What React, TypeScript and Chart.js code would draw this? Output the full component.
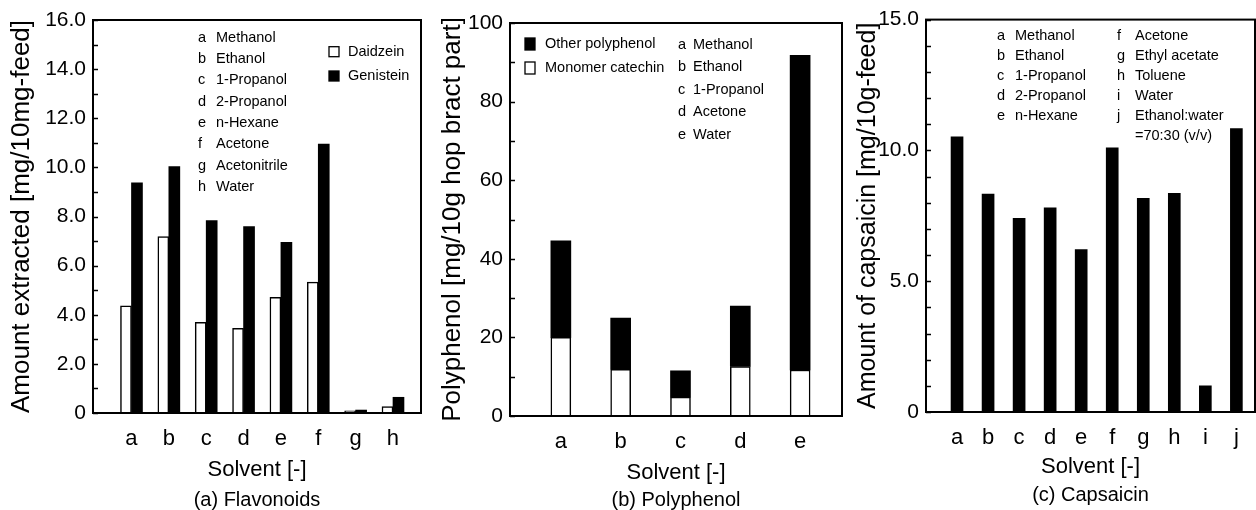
import React, { useEffect, useRef } from 'react';
import { Chart, registerables } from 'chart.js';

Chart.register(...registerables);

const FONT = "'Liberation Sans', Arial, Helvetica, sans-serif";

// ---------- Panel (a) Flavonoids ----------
const lettersA = ['a', 'b', 'c', 'd', 'e', 'f', 'g', 'h'];
const namesA = ['Methanol', 'Ethanol', '1-Propanol', '2-Propanol', 'n-Hexane', 'Acetone', 'Acetonitrile', 'Water'];
const daidzein = [4.36, 7.18, 3.69, 3.45, 4.71, 5.33, 0.09, 0.26];
const genistein = [9.37, 10.03, 7.83, 7.59, 6.95, 10.95, 0.12, 0.64];
const yTicksA = [0, 2, 4, 6, 8, 10, 12, 14, 16];
const yMinorA = [1, 3, 5, 7, 9, 11, 13, 15];

// ---------- Panel (b) Polyphenol ----------
const lettersB = ['a', 'b', 'c', 'd', 'e'];
const namesB = ['Methanol', 'Ethanol', '1-Propanol', 'Acetone', 'Water'];
const monomerCatechin = [20.0, 11.9, 4.8, 12.6, 11.7];
const otherPolyphenol = [24.6, 13.0, 6.7, 15.4, 80.1];
const yTicksB = [0, 20, 40, 60, 80, 100];
const yMinorB = [10, 30, 50, 70, 90];

// ---------- Panel (c) Capsaicin ----------
const lettersC = ['a', 'b', 'c', 'd', 'e', 'f', 'g', 'h', 'i', 'j'];
const namesC = ['Methanol', 'Ethanol', '1-Propanol', '2-Propanol', 'n-Hexane', 'Acetone', 'Ethyl acetate', 'Toluene', 'Water', 'Ethanol:water\n=70:30 (v/v)'];
const capsaicin = [10.52, 8.33, 7.4, 7.8, 6.21, 10.1, 8.17, 8.36, 1.0, 10.83];
const yTicksC = [0, 5, 10, 15];
const yMinorC = [1, 2, 3, 4, 6, 7, 8, 9, 11, 12, 13, 14];

const toPoints = (vals: number[]) => vals.map((v, i) => ({ x: i + 1, y: v }));

const framePlugin = {
  id: 'frameTicks',
  afterDatasetsDraw(chart: any, _args: any, opts: any) {
    const { ctx, chartArea: ca } = chart;
    const y = chart.scales.y;
    ctx.save();
    ctx.strokeStyle = '#000';
    ctx.lineWidth = 2;
    ctx.strokeRect(ca.left, ca.top, ca.right - ca.left, ca.bottom - ca.top);
    ctx.lineWidth = 1.5;
    [...(opts.major || []), ...(opts.minor || [])].forEach((v: number) => {
      const py = Math.round(y.getPixelForValue(v)) + 0.5;
      ctx.beginPath();
      ctx.moveTo(ca.left, py);
      ctx.lineTo(ca.left + opts.tickLen, py);
      ctx.stroke();
    });
    ctx.restore();
  },
};

const notesPlugin = {
  id: 'notes',
  afterDraw(chart: any, _args: any, opts: any) {
    const { ctx, chartArea: ca } = chart;
    ctx.save();
    ctx.font = `${opts.size}px ${FONT}`;
    ctx.fillStyle = '#000';
    ctx.textBaseline = 'middle';
    ctx.textAlign = 'left';
    (opts.columns || []).forEach((col: any) => {
      let row = 0;
      col.letters.forEach((letter: string, i: number) => {
        const lines = String(col.names[i]).split('\n');
        ctx.fillText(letter, ca.left + col.lx, ca.top + col.y0 + row * col.dy);
        lines.forEach((ln: string, k: number) => {
          ctx.fillText(ln, ca.left + col.nx, ca.top + col.y0 + (row + k) * col.dy);
        });
        row += lines.length;
      });
    });
    const sw = opts.swatches;
    if (sw) {
      sw.order.forEach((dsIndex: number, k: number) => {
        const ds = chart.data.datasets[dsIndex];
        const cy = ca.top + sw.y0 + k * sw.dy;
        const bx = ca.left + sw.bx;
        ctx.fillStyle = ds.backgroundColor;
        ctx.fillRect(bx, cy - sw.bh / 2, sw.bw, sw.bh);
        ctx.strokeStyle = '#000';
        ctx.lineWidth = 1.3;
        ctx.strokeRect(bx, cy - sw.bh / 2, sw.bw, sw.bh);
        ctx.fillStyle = '#000';
        ctx.fillText(ds.label, ca.left + sw.tx, cy);
      });
    }
    ctx.restore();
  },
};

type PanelSpec = {
  left: number;
  width: number;
  area: { l: number; t: number; r: number; b: number };
  datasets: any[];
  letters: string[];
  xMin: number;
  xMax: number;
  yMax: number;
  yTicks: number[];
  yMinor: number[];
  yFmt: (v: number) => string;
  yTitle: string;
  yTitleSize: number;
  yTitleCenter: number;
  subtitle: string;
  subtitleCenter: number;
  xTitleCenter: number;
  stacked: boolean;
  notes: any;
};

const H = 510;

function makeConfig(p: PanelSpec): any {
  const subSize = 20;
  const subPadBottom = H - subSize / 2 - p.subtitleCenter;
  const subHeight = subSize + subPadBottom;
  const xAxisHeight = H - p.area.b - subHeight;
  const xBottom = H - subHeight;
  const xTitleSize = 22;
  const xTitleLH = xTitleSize * 1.2;
  const xTitlePad = xBottom - xTitleLH / 2 - p.xTitleCenter;
  const yTitleLH = p.yTitleSize * 1.2;
  const yTitlePad = p.yTitleCenter - p.left - yTitleLH / 2;
  return {
    type: 'bar',
    data: { datasets: p.datasets },
    options: {
      animation: false,
      responsive: false,
      devicePixelRatio: 1,
      layout: { padding: { top: p.area.t, right: p.left + p.width - p.area.r, left: 0, bottom: 0 } },
      plugins: {
        legend: { display: false },
        tooltip: { enabled: false },
        title: {
          display: true,
          position: 'bottom',
          fullSize: false,
          text: p.subtitle,
          color: '#000',
          font: { family: FONT, size: subSize, lineHeight: 1, weight: 'normal' },
          padding: { top: 0, bottom: subPadBottom },
        },
        frameTicks: { major: p.yTicks, minor: p.yMinor, tickLen: 5 },
        notes: p.notes,
      },
      scales: {
        x: {
          type: 'linear',
          min: p.xMin,
          max: p.xMax,
          offset: false,
          stacked: p.stacked,
          grid: { display: false, drawTicks: false, offset: false },
          border: { display: false },
          afterBuildTicks: (s: any) => {
            s.ticks = p.letters.map((_, i) => ({ value: i + 1 }));
          },
          afterFit: (s: any) => {
            s.height = xAxisHeight;
          },
          ticks: {
            autoSkip: false,
            maxRotation: 0,
            padding: 13,
            color: '#000',
            font: { family: FONT, size: 22 },
            callback: (v: number) => p.letters[Math.round(v) - 1] ?? '',
          },
          title: {
            display: true,
            text: 'Solvent [-]',
            color: '#000',
            font: { family: FONT, size: xTitleSize, lineHeight: 1.2 },
            padding: { top: 0, bottom: xTitlePad },
          },
        },
        y: {
          min: 0,
          max: p.yMax,
          stacked: p.stacked,
          grid: { display: false, drawTicks: false },
          border: { display: false },
          afterBuildTicks: (s: any) => {
            s.ticks = p.yTicks.map((v) => ({ value: v }));
          },
          afterFit: (s: any) => {
            s.width = p.area.l - p.left;
          },
          ticks: {
            autoSkip: false,
            padding: 7,
            color: '#000',
            font: { family: FONT, size: 21 },
            callback: (v: number) => p.yFmt(v),
          },
          title: {
            display: true,
            text: p.yTitle,
            color: '#000',
            font: { family: FONT, size: p.yTitleSize, lineHeight: 1.2 },
            padding: { top: yTitlePad, bottom: 0 },
          },
        },
      },
    },
    plugins: [framePlugin, notesPlugin],
  };
}

const fmt1 = (v: number) => (v === 0 ? '0' : v.toFixed(1));
const fmt0 = (v: number) => String(v);

const panels: PanelSpec[] = [
  {
    left: 0,
    width: 425,
    area: { l: 93, t: 20, r: 421, b: 413 },
    datasets: [
      { label: 'Daidzein', data: toPoints(daidzein), backgroundColor: '#ffffff', borderColor: '#000', borderWidth: 1.5, barThickness: 11 },
      { label: 'Genistein', data: toPoints(genistein), backgroundColor: '#000000', borderColor: '#000', borderWidth: 0, barThickness: 11 },
    ],
    letters: lettersA,
    xMin: -0.03,
    xMax: 8.75,
    yMax: 16,
    yTicks: yTicksA,
    yMinor: yMinorA,
    yFmt: fmt1,
    yTitle: 'Amount extracted [mg/10mg-feed]',
    yTitleSize: 26,
    yTitleCenter: 22,
    subtitle: '(a) Flavonoids',
    subtitleCenter: 500,
    xTitleCenter: 470,
    stacked: false,
    notes: {
      size: 14.5,
      columns: [{ letters: lettersA, names: namesA, lx: 105, nx: 123, y0: 17.7, dy: 21.3 }],
      swatches: { order: [0, 1], bx: 236, bw: 10, bh: 10, tx: 255, y0: 31.7, dy: 24.3 },
    },
  },
  {
    left: 425,
    width: 420,
    area: { l: 510, t: 23, r: 842, b: 416 },
    datasets: [
      { label: 'Monomer catechin', data: toPoints(monomerCatechin), backgroundColor: '#ffffff', borderColor: '#000', borderWidth: 1.5, barThickness: 20 },
      { label: 'Other polyphenol', data: toPoints(otherPolyphenol), backgroundColor: '#000000', borderColor: '#000', borderWidth: 0, barThickness: 20 },
    ],
    letters: lettersB,
    xMin: 0.15,
    xMax: 5.7,
    yMax: 100,
    yTicks: yTicksB,
    yMinor: yMinorB,
    yFmt: fmt0,
    yTitle: 'Polyphenol [mg/10g hop bract part]',
    yTitleSize: 26,
    yTitleCenter: 453,
    subtitle: '(b) Polyphenol',
    subtitleCenter: 500,
    xTitleCenter: 473,
    stacked: true,
    notes: {
      size: 14.5,
      columns: [{ letters: lettersB, names: namesB, lx: 168, nx: 183, y0: 21.7, dy: 22.5 }],
      swatches: { order: [1, 0], bx: 15, bw: 10, bh: 12, tx: 35, y0: 21, dy: 24 },
    },
  },
  {
    left: 845,
    width: 411,
    area: { l: 926, t: 18, r: 1255, b: 412 },
    datasets: [
      { label: 'Capsaicin', data: toPoints(capsaicin), backgroundColor: '#000000', borderColor: '#000', borderWidth: 0, barThickness: 12 },
    ],
    letters: lettersC,
    xMin: 0.0,
    xMax: 10.6,
    yMax: 15,
    yTicks: yTicksC,
    yMinor: yMinorC,
    yFmt: fmt1,
    yTitle: 'Amount of capsaicin [mg/10g-feed]',
    yTitleSize: 25,
    yTitleCenter: 868,
    subtitle: '(c) Capsaicin',
    subtitleCenter: 495,
    xTitleCenter: 467,
    stacked: false,
    notes: {
      size: 14.5,
      columns: [
        { letters: lettersC.slice(0, 5), names: namesC.slice(0, 5), lx: 71, nx: 89, y0: 16.7, dy: 20 },
        { letters: lettersC.slice(5), names: namesC.slice(5), lx: 191, nx: 209, y0: 16.7, dy: 20 },
      ],
    },
  },
];

function Panel({ spec }: { spec: PanelSpec }) {
  const ref = useRef<HTMLCanvasElement | null>(null);
  useEffect(() => {
    if (!ref.current) return;
    const chart = new Chart(ref.current, makeConfig(spec));
    return () => chart.destroy();
  }, [spec]);
  return (
    <div style={{ position: 'absolute', left: spec.left, top: 0, width: spec.width, height: H }}>
      <canvas ref={ref} width={spec.width} height={H} style={{ width: spec.width, height: H, display: 'block' }} />
    </div>
  );
}

export default function App() {
  return (
    <div style={{ position: 'absolute', left: 0, top: 0, width: 1256, height: H, background: '#fff', overflow: 'hidden' }}>
      {panels.map((p, i) => (
        <Panel key={i} spec={p} />
      ))}
    </div>
  );
}
